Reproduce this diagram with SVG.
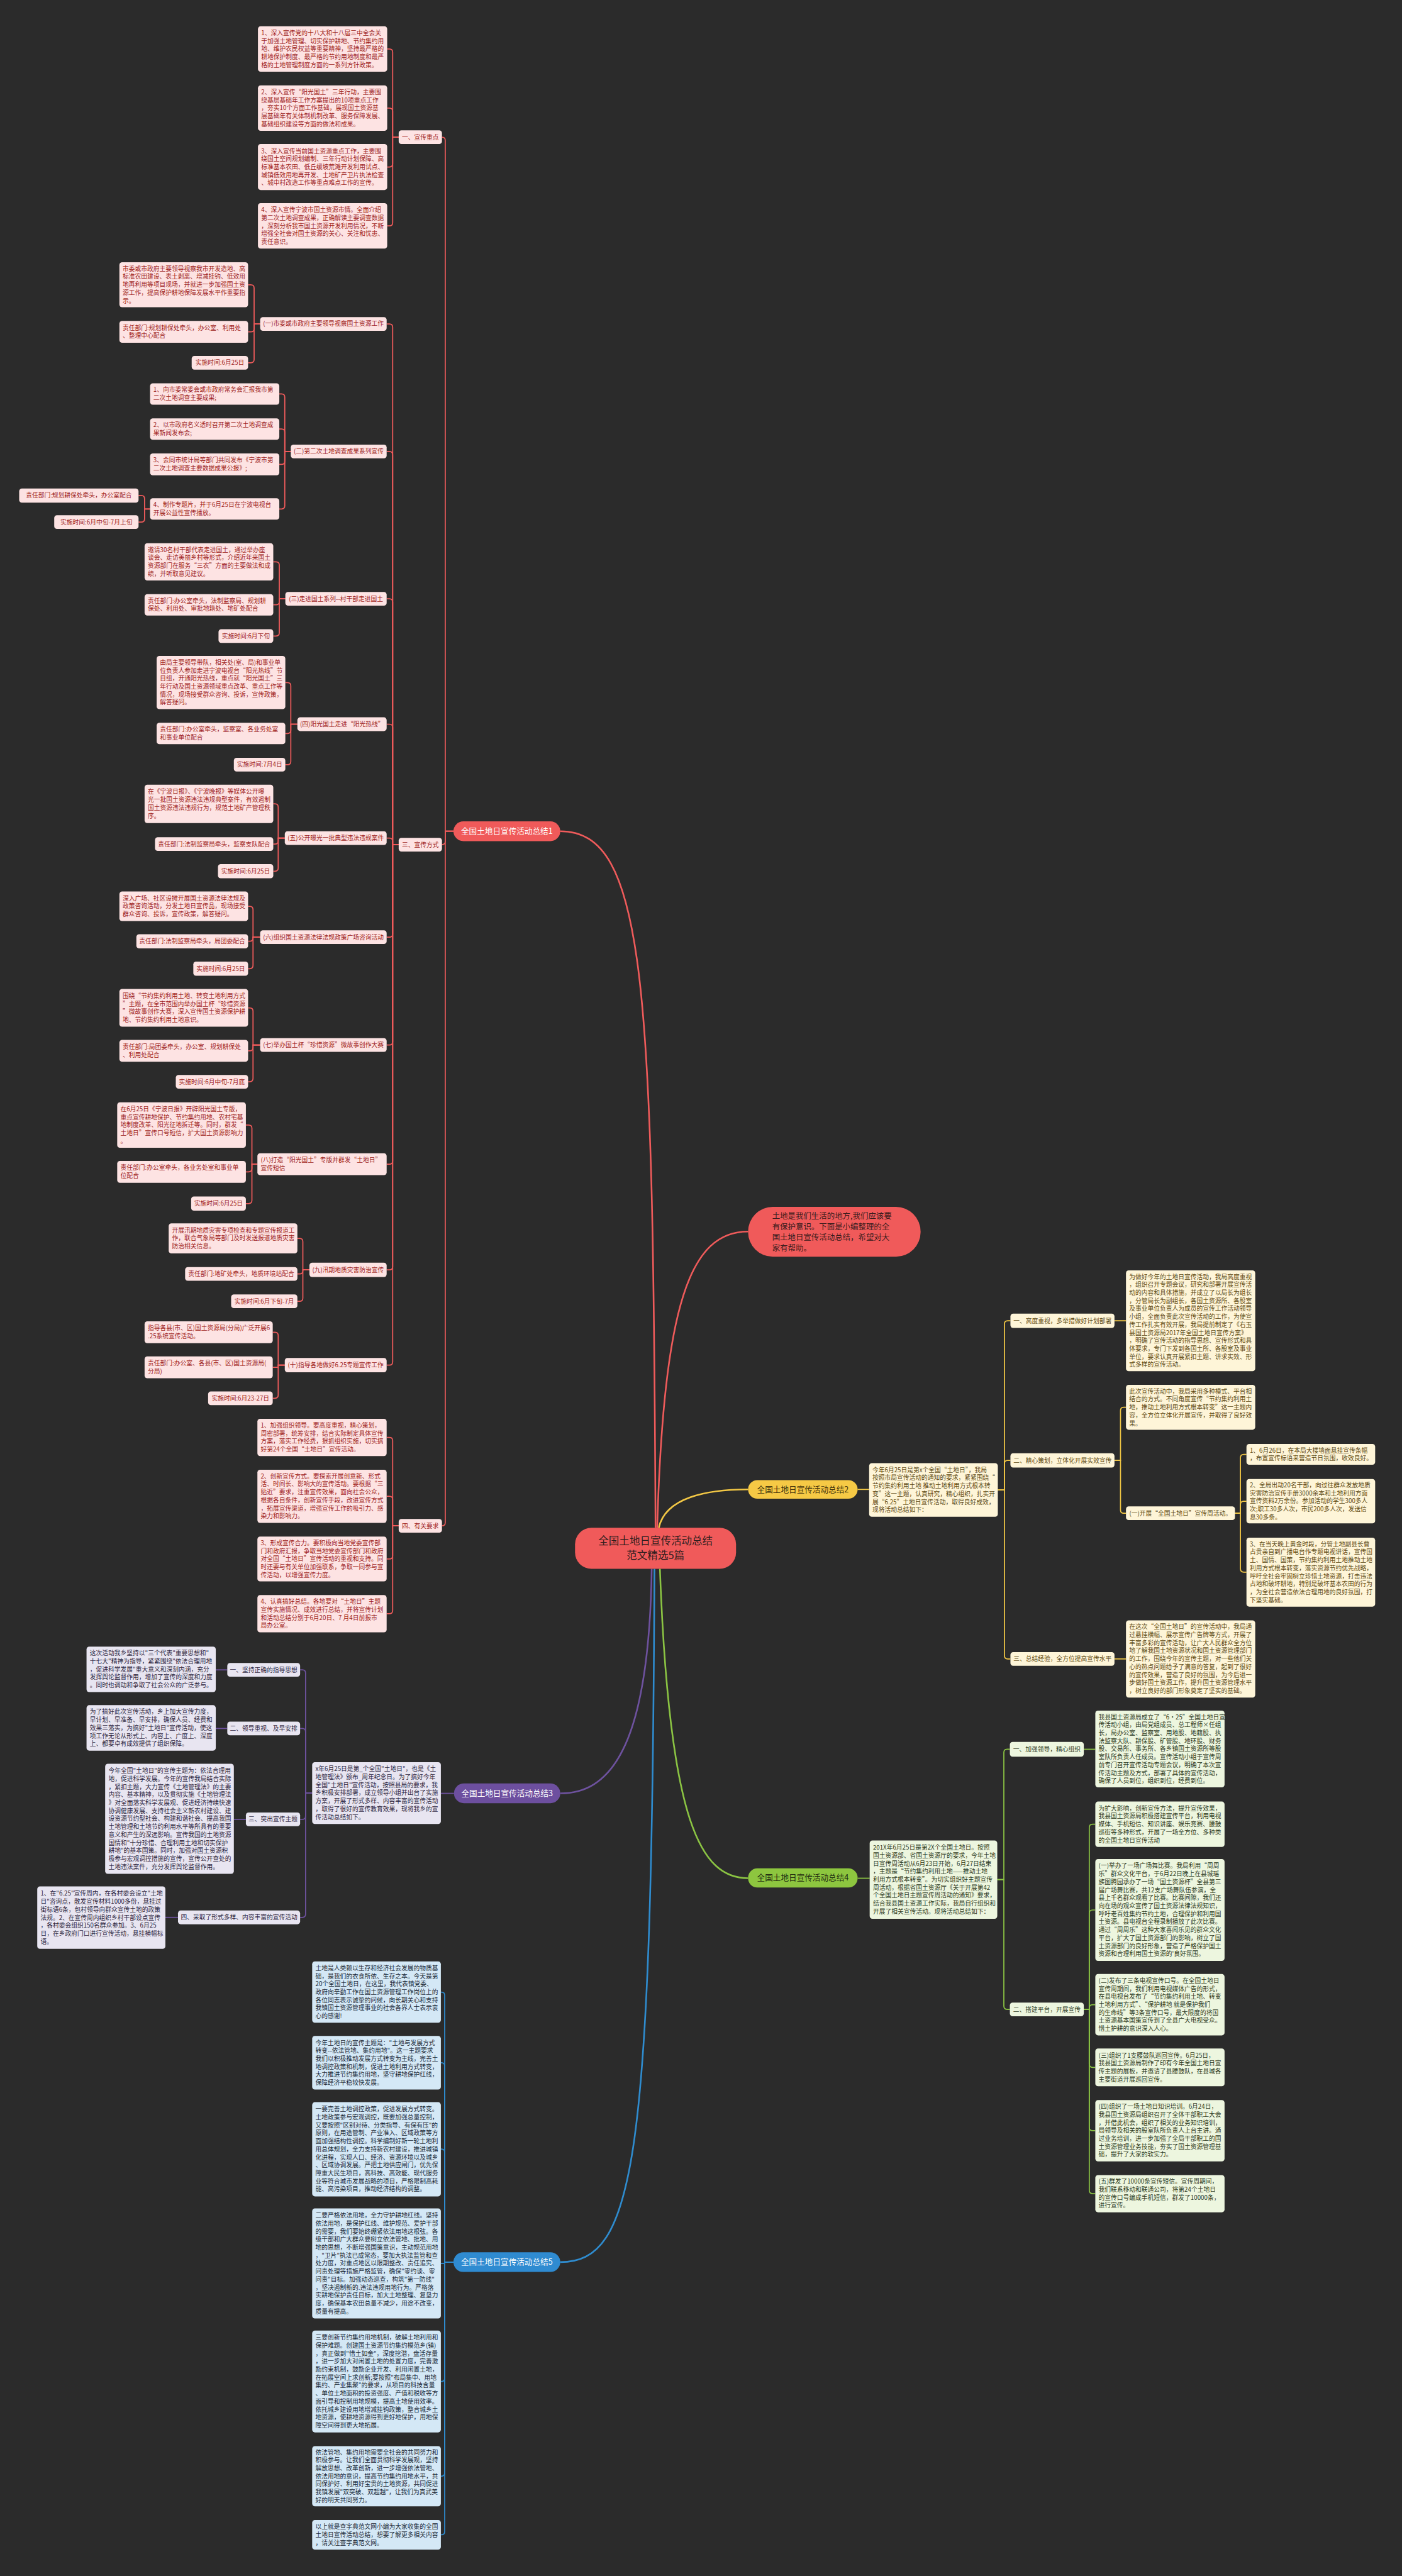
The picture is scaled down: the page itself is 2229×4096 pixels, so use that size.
<svg xmlns="http://www.w3.org/2000/svg" width="2229" height="4096" viewBox="0 0 2229 4096">
<style>
text{font-family:"Noto Sans CJK SC","Noto Sans",sans-serif;font-size:11.2px}
path{fill:none;stroke-width:2}
.main path{stroke-width:3}
.cr{stroke:#ef5b5b}.cy{stroke:#f3c845}.cp{stroke:#6e529f}.cg{stroke:#8bc443}.cb{stroke:#2f8ccf}
.lr rect{fill:#fde3e3}.lr text{fill:#a01e22}
.ly rect{fill:#fef5d8}.ly text{fill:#5e4a12}
.lp rect{fill:#e8e5f1}.lp text{fill:#2d2540}
.lg rect{fill:#edf6df}.lg text{fill:#2d3a1c}
.lb rect{fill:#d4e8f6}.lb text{fill:#1b2a38}
.m{text-anchor:middle}
.bl text{font-size:14.5px;text-anchor:middle}
</style>
<rect width="2229" height="4096" fill="#2b2b2b"/>
<g transform="scale(0.8707)">
<g id="connectors">
<g class="main">
<path class="cr" d="M1197 2790 C1192 1800 1180 1518 1023 1518"/>
<path class="cr" d="M1200 2790 C1212 2380 1260 2249 1366 2249"/>
<path class="cy" d="M1203 2790 C1215 2735 1290 2720 1366 2720"/>
<path class="cp" d="M1190 2865 C1185 3200 1110 3275 1023 3275"/>
<path class="cg" d="M1205 2865 C1222 3330 1280 3430 1366 3430"/>
<path class="cb" d="M1195 2865 C1190 3950 1160 4131 1023 4131"/>
</g>
<g class="cr">
<path d="M828 1518 H813 V256.5 Q813 250.5 807 250.5"/>
<path d="M828 1518 H813 V1536.5 Q813 1542.5 807 1542.5"/>
<path d="M828 1518 H813 V2780.5 Q813 2786.5 807 2786.5"/>
<path d="M728 250.5 H717 V95.5 Q717 89.5 711 89.5 H707"/>
<path d="M728 250.5 H717 V203.5 Q717 197.5 711 197.5 H707"/>
<path d="M728 250.5 H717 V299 Q717 305 711 305 H707"/>
<path d="M728 250.5 H717 V406.5 Q717 412.5 711 412.5 H707"/>
<path d="M728 1542.5 H717 V597.5 Q717 591.5 711 591.5 H706"/>
<path d="M728 1542.5 H717 V830.5 Q717 824.5 711 824.5 H706"/>
<path d="M728 1542.5 H717 V1099.5 Q717 1093.5 711 1093.5 H706"/>
<path d="M728 1542.5 H717 V1328.5 Q717 1322.5 711 1322.5 H706"/>
<path d="M728 1542.5 H717 V1536.5 Q717 1530.5 711 1530.5 H706"/>
<path d="M728 1542.5 H717 V1705.5 Q717 1711.5 711 1711.5 H706"/>
<path d="M728 1542.5 H717 V1902.5 Q717 1908.5 711 1908.5 H706"/>
<path d="M728 1542.5 H717 V2120 Q717 2126 711 2126 H706"/>
<path d="M728 1542.5 H717 V2313 Q717 2319 711 2319 H706"/>
<path d="M728 1542.5 H717 V2487 Q717 2493 711 2493 H706"/>
<path d="M475 591.5 H464 V526 Q464 520 458 520 H453"/>
<path d="M475 591.5 H464 V600 Q464 606 458 606 H453"/>
<path d="M475 591.5 H464 V656.5 Q464 662.5 458 662.5 H453"/>
<path d="M531 824.5 H520 V725.5 Q520 719.5 514 719.5 H510"/>
<path d="M531 824.5 H520 V789.5 Q520 783.5 514 783.5 H510"/>
<path d="M531 824.5 H520 V842 Q520 848 514 848 H510"/>
<path d="M531 824.5 H520 V923.5 Q520 929.5 514 929.5 H510"/>
<path d="M274 929.5 H264 V911 Q264 905 258 905 H253"/>
<path d="M274 929.5 H264 V947.5 Q264 953.5 258 953.5 H253"/>
<path d="M521 1093.5 H510 V1032 Q510 1026 504 1026 H499"/>
<path d="M521 1093.5 H510 V1098.5 Q510 1104.5 504 1104.5 H499"/>
<path d="M521 1093.5 H510 V1155.5 Q510 1161.5 504 1161.5 H499"/>
<path d="M543 1322.5 H531 V1252.5 Q531 1246.5 525 1246.5 H521"/>
<path d="M543 1322.5 H531 V1333.5 Q531 1339.5 525 1339.5 H521"/>
<path d="M543 1322.5 H531 V1390.5 Q531 1396.5 525 1396.5 H521"/>
<path d="M520 1530.5 H508 V1474 Q508 1468 502 1468 H499"/>
<path d="M520 1530.5 H508 V1535.5 Q508 1541.5 502 1541.5 H499"/>
<path d="M520 1530.5 H508 V1585 Q508 1591 502 1591 H499"/>
<path d="M475 1711.5 H462 V1661 Q462 1655 456 1655 H453"/>
<path d="M475 1711.5 H462 V1713 Q462 1719 456 1719 H453"/>
<path d="M475 1711.5 H462 V1763 Q462 1769 456 1769 H453"/>
<path d="M475 1908.5 H462 V1846.5 Q462 1840.5 456 1840.5 H453"/>
<path d="M475 1908.5 H462 V1913 Q462 1919 456 1919 H453"/>
<path d="M475 1908.5 H462 V1969.5 Q462 1975.5 456 1975.5 H453"/>
<path d="M470 2126 H460 V2060.5 Q460 2054.5 454 2054.5 H449"/>
<path d="M470 2126 H460 V2134 Q460 2140 454 2140 H449"/>
<path d="M470 2126 H460 V2192 Q460 2198 454 2198 H449"/>
<path d="M565 2319 H553 V2267.5 Q553 2261.5 547 2261.5 H543"/>
<path d="M565 2319 H553 V2320.5 Q553 2326.5 547 2326.5 H543"/>
<path d="M565 2319 H553 V2370.5 Q553 2376.5 547 2376.5 H543"/>
<path d="M520 2493 H508 V2439 Q508 2433 502 2433 H498"/>
<path d="M520 2493 H508 V2497 H498"/>
<path d="M520 2493 H508 V2547.5 Q508 2553.5 502 2553.5 H498"/>
<path d="M728 2786.5 H717 V2631 Q717 2625 711 2625 H706"/>
<path d="M728 2786.5 H717 V2738.5 Q717 2732.5 711 2732.5 H706"/>
<path d="M728 2786.5 H717 V2841 Q717 2847 711 2847 H706"/>
<path d="M728 2786.5 H717 V2941 Q717 2947 711 2947 H706"/>
</g>
<g class="cy">
<path d="M1566 2720 H1587"/>
<path d="M1822 2721 H1834 V2418 Q1834 2412 1840 2412 H1845"/>
<path d="M1822 2721 H1834 V2673 Q1834 2667 1840 2667 H1845"/>
<path d="M1822 2721 H1834 V3023.5 Q1834 3029.5 1840 3029.5 H1845"/>
<path d="M2035 2412 H2056"/>
<path d="M2035 2667 H2046 V2576 Q2046 2570 2052 2570 H2056"/>
<path d="M2035 2667 H2046 V2757.5 Q2046 2763.5 2052 2763.5 H2056"/>
<path d="M2255 2763.5 H2265 V2662 Q2265 2656 2271 2656 H2276"/>
<path d="M2255 2763.5 H2265 V2747.5 Q2265 2741.5 2271 2741.5 H2276"/>
<path d="M2255 2763.5 H2265 V2865 Q2265 2871 2271 2871 H2276"/>
<path d="M2035 3029.5 H2056"/>
</g>
<g class="cp">
<path d="M829 3275 H805"/>
<path d="M570 3274.5 H558 V3055.5 Q558 3049.5 552 3049.5 H548"/>
<path d="M570 3274.5 H558 V3162.5 Q558 3156.5 552 3156.5 H548"/>
<path d="M570 3274.5 H558 V3316.5 Q558 3322.5 552 3322.5 H548"/>
<path d="M570 3274.5 H558 V3495.5 Q558 3501.5 552 3501.5 H548"/>
<path d="M415 3049.5 H394"/>
<path d="M415 3156.5 H394"/>
<path d="M449 3322.5 H427"/>
<path d="M325 3501.5 H302"/>
</g>
<g class="cg">
<path d="M1566 3430 H1588"/>
<path d="M1821 3432.5 H1833 V3200.5 Q1833 3194.5 1839 3194.5 H1844"/>
<path d="M1821 3432.5 H1833 V3663.5 Q1833 3669.5 1839 3669.5 H1844"/>
<path d="M1979 3194.5 H2000"/>
<path d="M1979 3669.5 H1989 V3337.5 Q1989 3331.5 1995 3331.5 H2000"/>
<path d="M1979 3669.5 H1989 V3494 Q1989 3488 1995 3488 H2000"/>
<path d="M1979 3669.5 H1989 V3667 Q1989 3661 1995 3661 H2000"/>
<path d="M1979 3669.5 H1989 V3769.5 Q1989 3775.5 1995 3775.5 H2000"/>
<path d="M1979 3669.5 H1989 V3885 Q1989 3891 1995 3891 H2000"/>
<path d="M1979 3669.5 H1989 V4000 Q1989 4006 1995 4006 H2000"/>
</g>
<g class="cb">
<path d="M828 4131 H812 V3644 Q812 3638 806 3638 H805"/>
<path d="M828 4131 H812 V3773 Q812 3767 806 3767 H805"/>
<path d="M828 4131 H812 V3930.5 Q812 3924.5 806 3924.5 H805"/>
<path d="M828 4131 H812 V4133.5 H805"/>
<path d="M828 4131 H812 V4343 Q812 4349 806 4349 H805"/>
<path d="M828 4131 H812 V4516 Q812 4522 806 4522 H805"/>
<path d="M828 4131 H812 V4623 Q812 4629 806 4629 H805"/>
</g>
</g>

<g id="root"><rect x="1050" y="2790" width="294" height="75" rx="30" fill="#f05a5a"/><text x="1197" y="2821" class="m" font-size="19" fill="#2e1e1e" style="font-size:19px"><tspan>全国土地日宣传活动总结</tspan><tspan x="1197" dy="26">范文精选5篇</tspan></text></g>
<g id="intro"><rect x="1366" y="2204" width="315" height="91" rx="45" fill="#f05a5a"/><text x="1410" y="2226" fill="#3a1c1c" style="font-size:14.3px"><tspan>土地是我们生活的地方,我们应该要</tspan><tspan x="1410" dy="19.5">有保护意识。下面是小编整理的全</tspan><tspan x="1410" dy="19.5">国土地日宣传活动总结，希望对大</tspan><tspan x="1410" dy="19.5">家有帮助。</tspan></text></g>

<g id="b1" class="bl"><rect x="828" y="1500" width="195" height="36" rx="18" fill="#f05a5a"/><text x="925.5" y="1523" fill="#fff">全国土地日宣传活动总结1</text></g>
<g id="b2" class="bl"><rect x="1366" y="2703" width="200" height="34" rx="17" fill="#f6c945"/><text x="1466" y="2725" fill="#3a2e0a">全国土地日宣传活动总结2</text></g>
<g id="b3" class="bl"><rect x="829" y="3257" width="194" height="36" rx="18" fill="#6d4f9f"/><text x="926" y="3280" fill="#fff">全国土地日宣传活动总结3</text></g>
<g id="b4" class="bl"><rect x="1366" y="3412" width="200" height="35" rx="17" fill="#8dc63f"/><text x="1466" y="3434.5" fill="#1e2a10">全国土地日宣传活动总结4</text></g>
<g id="b5" class="bl"><rect x="828" y="4113" width="195" height="36" rx="18" fill="#2f8bd1"/><text x="925.5" y="4136" fill="#fff">全国土地日宣传活动总结5</text></g>

<g class="lr">
<g id="n1-l1"><rect x="728" y="238" width="79" height="25" rx="5"/><text x="767.5" y="254.5" class="m">一、宣传重点</text></g>
<g id="n1-l3"><rect x="728" y="1530" width="79" height="25" rx="5"/><text x="767.5" y="1546.5" class="m">三、宣传方式</text></g>
<g id="n1-l4"><rect x="728" y="2774" width="79" height="25" rx="5"/><text x="767.5" y="2790.5" class="m">四、有关要求</text></g>

<g id="n1-1a"><rect x="471" y="48" width="236" height="83" rx="5"/><text x="477" y="64.2"><tspan>1、深入宣传党的十八大和十八届三中全会关</tspan><tspan x="477" dy="14.6">于加强土地管理、切实保护耕地、节约集约用</tspan><tspan x="477" dy="14.6">地、维护农民权益等重要精神，坚持最严格的</tspan><tspan x="477" dy="14.6">耕地保护制度、最严格的节约用地制度和最严</tspan><tspan x="477" dy="14.6">格的土地管理制度方面的一系列方针政策。</tspan></text></g>
<g id="n1-1b"><rect x="471" y="156" width="236" height="83" rx="5"/><text x="477" y="172.2"><tspan>2、深入宣传“阳光国土”三年行动，主要围</tspan><tspan x="477" dy="14.6">绕基层基础年工作方案提出的10项重点工作</tspan><tspan x="477" dy="14.6">，夯实10个方面工作基础，展现国土资源基</tspan><tspan x="477" dy="14.6">层基础年有关体制机制改革、服务保障发展、</tspan><tspan x="477" dy="14.6">基础组织建设等方面的做法和成果。</tspan></text></g>
<g id="n1-1c"><rect x="471" y="263" width="236" height="84" rx="5"/><text x="477" y="279.7"><tspan>3、深入宣传当前国土资源重点工作，主要围</tspan><tspan x="477" dy="14.6">绕国土空间规划编制、三年行动计划保障、高</tspan><tspan x="477" dy="14.6">标准基本农田、低丘缓坡荒滩开发利用试点、</tspan><tspan x="477" dy="14.6">城镇低效用地再开发、土地矿产卫片执法检查</tspan><tspan x="477" dy="14.6">、城中村改造工作等重点难点工作的宣传。</tspan></text></g>
<g id="n1-1d"><rect x="471" y="371" width="236" height="83" rx="5"/><text x="477" y="387.2"><tspan>4、深入宣传宁波市国土资源市情。全面介绍</tspan><tspan x="477" dy="14.6">第二次土地调查成果，正确解读主要调查数据</tspan><tspan x="477" dy="14.6">，深刻分析我市国土资源开发利用情况，不断</tspan><tspan x="477" dy="14.6">增强全社会对国土资源的关心、关注和忧患、</tspan><tspan x="477" dy="14.6">责任意识。</tspan></text></g>

<g id="n1-s1"><rect x="475" y="579" width="231" height="25" rx="5"/><text x="590.5" y="595.5" class="m">(一)市委或市政府主要领导视察国土资源工作</text></g>
<g id="n1-s1a"><rect x="218" y="479" width="235" height="82" rx="5"/><text x="224" y="494.7"><tspan>市委或市政府主要领导视察我市开发造地、高</tspan><tspan x="224" dy="14.6">标准农田建设、表土剥离、增减挂钩、低效用</tspan><tspan x="224" dy="14.6">地再利用等项目现场，并就进一步加强国土资</tspan><tspan x="224" dy="14.6">源工作，提高保护耕地保障发展水平作重要指</tspan><tspan x="224" dy="14.6">示。</tspan></text></g>
<g id="n1-s1b"><rect x="218" y="586" width="235" height="40" rx="5"/><text x="224" y="602.6"><tspan>责任部门:规划耕保处牵头，办公室、利用处</tspan><tspan x="224" dy="14.6">、整理中心配合</tspan></text></g>
<g id="n1-s1c"><rect x="350" y="650" width="103" height="25" rx="5"/><text x="401.5" y="666.5" class="m">实施时间:6月25日</text></g>

<g id="n1-s2"><rect x="531" y="812" width="175" height="25" rx="5"/><text x="618.5" y="828.5" class="m">(二)第二次土地调查成果系列宣传</text></g>
<g id="n1-s2a"><rect x="274" y="700" width="236" height="39" rx="5"/><text x="280" y="716.1"><tspan>1、向市委常委会或市政府常务会汇报我市第</tspan><tspan x="280" dy="14.6">二次土地调查主要成果;</tspan></text></g>
<g id="n1-s2b"><rect x="274" y="764" width="236" height="39" rx="5"/><text x="280" y="780.1"><tspan>2、以市政府名义适时召开第二次土地调查成</tspan><tspan x="280" dy="14.6">果新闻发布会;</tspan></text></g>
<g id="n1-s2c"><rect x="274" y="828" width="236" height="40" rx="5"/><text x="280" y="844.6"><tspan>3、会同市统计局等部门共同发布《宁波市第</tspan><tspan x="280" dy="14.6">二次土地调查主要数据成果公报》;</tspan></text></g>
<g id="n1-s2d"><rect x="274" y="910" width="236" height="39" rx="5"/><text x="280" y="926.1"><tspan>4、制作专题片，并于6月25日在宁波电视台</tspan><tspan x="280" dy="14.6">开展公益性宣传播放。</tspan></text></g>
<g id="n1-s2d1"><rect x="35" y="892" width="218" height="26" rx="5"/><text x="144" y="909" class="m">责任部门:规划耕保处牵头，办公室配合</text></g>
<g id="n1-s2d2"><rect x="99" y="941" width="154" height="25" rx="5"/><text x="176" y="957.5" class="m">实施时间:6月中旬-7月上旬</text></g>

<g id="n1-s3"><rect x="521" y="1081" width="185" height="25" rx="5"/><text x="613.5" y="1097.5" class="m">(三)走进国土系列--村干部走进国土</text></g>
<g id="n1-s3a"><rect x="264" y="992" width="235" height="68" rx="5"/><text x="270" y="1008"><tspan>邀请30名村干部代表走进国土，通过举办座</tspan><tspan x="270" dy="14.6">谈会、走访美丽乡村等形式，介绍近年来国土</tspan><tspan x="270" dy="14.6">资源部门在服务“三农”方面的主要做法和成</tspan><tspan x="270" dy="14.6">绩，并听取意见建议。</tspan></text></g>
<g id="n1-s3b"><rect x="264" y="1085" width="235" height="39" rx="5"/><text x="270" y="1101.1"><tspan>责任部门:办公室牵头，法制监察局、规划耕</tspan><tspan x="270" dy="14.6">保处、利用处、审批地籍处、地矿处配合</tspan></text></g>
<g id="n1-s3c"><rect x="399" y="1149" width="100" height="25" rx="5"/><text x="449" y="1165.5" class="m">实施时间:6月下旬</text></g>

<g id="n1-s4"><rect x="543" y="1310" width="163" height="25" rx="5"/><text x="624.5" y="1326.5" class="m">(四)阳光国土走进“阳光热线”</text></g>
<g id="n1-s4a"><rect x="286" y="1198" width="235" height="97" rx="5"/><text x="292" y="1213.9"><tspan>由局主要领导带队，相关处(室、局)和事业单</tspan><tspan x="292" dy="14.6">位负责人参加走进宁波电视台“阳光热线”节</tspan><tspan x="292" dy="14.6">目组，开通阳光热线，重点就“阳光国土”三</tspan><tspan x="292" dy="14.6">年行动及国土资源领域重点改革、重点工作等</tspan><tspan x="292" dy="14.6">情况，现场接受群众咨询、投诉，宣传政策，</tspan><tspan x="292" dy="14.6">解答疑问。</tspan></text></g>
<g id="n1-s4b"><rect x="286" y="1320" width="235" height="39" rx="5"/><text x="292" y="1336.1"><tspan>责任部门:办公室牵头，监察室、各业务处室</tspan><tspan x="292" dy="14.6">和事业单位配合</tspan></text></g>
<g id="n1-s4c"><rect x="427" y="1384" width="94" height="25" rx="5"/><text x="474" y="1400.5" class="m">实施时间:7月4日</text></g>

<g id="n1-s5"><rect x="520" y="1518" width="186" height="25" rx="5"/><text x="613" y="1534.5" class="m">(五)公开曝光一批典型违法违规案件</text></g>
<g id="n1-s5a"><rect x="264" y="1433" width="235" height="70" rx="5"/><text x="270" y="1450"><tspan>在《宁波日报》、《宁波晚报》等媒体公开曝</tspan><tspan x="270" dy="14.6">光一批国土资源违法违规典型案件，有效遏制</tspan><tspan x="270" dy="14.6">国土资源违法违规行为，规范土地矿产管理秩</tspan><tspan x="270" dy="14.6">序。</tspan></text></g>
<g id="n1-s5b"><rect x="283" y="1529" width="216" height="25" rx="5"/><text x="391" y="1545.5" class="m">责任部门:法制监察局牵头，监察支队配合</text></g>
<g id="n1-s5c"><rect x="398" y="1578" width="101" height="26" rx="5"/><text x="448.5" y="1595" class="m">实施时间:6月25日</text></g>

<g id="n1-s6"><rect x="475" y="1699" width="231" height="25" rx="5"/><text x="590.5" y="1715.5" class="m">(六)组织国土资源法律法规政策广场咨询活动</text></g>
<g id="n1-s6a"><rect x="218" y="1628" width="235" height="54" rx="5"/><text x="224" y="1644.3"><tspan>深入广场、社区设摊开展国土资源法律法规及</tspan><tspan x="224" dy="14.6">政策咨询活动，分发土地日宣传品，现场接受</tspan><tspan x="224" dy="14.6">群众咨询、投诉，宣传政策，解答疑问。</tspan></text></g>
<g id="n1-s6b"><rect x="249" y="1706" width="204" height="26" rx="5"/><text x="351" y="1723" class="m">责任部门:法制监察局牵头，局团委配合</text></g>
<g id="n1-s6c"><rect x="353" y="1756" width="100" height="26" rx="5"/><text x="403" y="1773" class="m">实施时间:6月25日</text></g>

<g id="n1-s7"><rect x="475" y="1896" width="231" height="25" rx="5"/><text x="590.5" y="1912.5" class="m">(七)举办国土杯“珍惜资源”微故事创作大赛</text></g>
<g id="n1-s7a"><rect x="218" y="1806" width="235" height="69" rx="5"/><text x="224" y="1822.5"><tspan>围绕“节约集约利用土地、转变土地利用方式</tspan><tspan x="224" dy="14.6">”主题，在全市范围内举办国土杯“珍惜资源</tspan><tspan x="224" dy="14.6">”微故事创作大赛，深入宣传国土资源保护耕</tspan><tspan x="224" dy="14.6">地、节约集约利用土地意识。</tspan></text></g>
<g id="n1-s7b"><rect x="218" y="1899" width="235" height="40" rx="5"/><text x="224" y="1915.6"><tspan>责任部门:局团委牵头，办公室、规划耕保处</tspan><tspan x="224" dy="14.6">、利用处配合</tspan></text></g>
<g id="n1-s7c"><rect x="321" y="1963" width="132" height="25" rx="5"/><text x="387" y="1979.5" class="m">实施时间:6月中旬-7月底</text></g>

<g id="n1-s8"><rect x="470" y="2106" width="236" height="40" rx="5"/><text x="476" y="2122.6"><tspan>(八)打造“阳光国土”专版并群发“土地日”</tspan><tspan x="476" dy="14.6">宣传短信</tspan></text></g>
<g id="n1-s8a"><rect x="214" y="2013" width="235" height="83" rx="5"/><text x="220" y="2029.2"><tspan>在6月25日《宁波日报》开辟阳光国土专版，</tspan><tspan x="220" dy="14.6">重点宣传耕地保护、节约集约用地、农村宅基</tspan><tspan x="220" dy="14.6">地制度改革、阳光征地拆迁等。同时，群发“</tspan><tspan x="220" dy="14.6">土地日”宣传口号短信，扩大国土资源影响力</tspan><tspan x="220" dy="14.6">。</tspan></text></g>
<g id="n1-s8b"><rect x="214" y="2120" width="235" height="40" rx="5"/><text x="220" y="2136.6"><tspan>责任部门:办公室牵头，各业务处室和事业单</tspan><tspan x="220" dy="14.6">位配合</tspan></text></g>
<g id="n1-s8c"><rect x="349" y="2185" width="100" height="26" rx="5"/><text x="399" y="2202" class="m">实施时间:6月25日</text></g>

<g id="n1-s9"><rect x="565" y="2306" width="141" height="26" rx="5"/><text x="635.5" y="2323" class="m">(九)汛期地质灾害防治宣传</text></g>
<g id="n1-s9a"><rect x="308" y="2234" width="235" height="55" rx="5"/><text x="314" y="2250.8"><tspan>开展汛期地质灾害专项检查和专题宣传报道工</tspan><tspan x="314" dy="14.6">作，联合气象局等部门及时发送报道地质灾害</tspan><tspan x="314" dy="14.6">防治相关信息。</tspan></text></g>
<g id="n1-s9b"><rect x="338" y="2314" width="205" height="25" rx="5"/><text x="440.5" y="2330.5" class="m">责任部门:地矿处牵头，地质环境站配合</text></g>
<g id="n1-s9c"><rect x="422" y="2364" width="121" height="25" rx="5"/><text x="482.5" y="2380.5" class="m">实施时间:6月下旬-7月</text></g>

<g id="n1-s10"><rect x="520" y="2480" width="186" height="26" rx="5"/><text x="613" y="2497" class="m">(十)指导各地做好6.25专题宣传工作</text></g>
<g id="n1-s10a"><rect x="264" y="2413" width="234" height="40" rx="5"/><text x="270" y="2429.6"><tspan>指导各县(市、区)国土资源局(分局)广泛开展6</tspan><tspan x="270" dy="14.6">.25系统宣传活动。</tspan></text></g>
<g id="n1-s10b"><rect x="264" y="2477" width="234" height="40" rx="5"/><text x="270" y="2493.6"><tspan>责任部门:办公室、各县(市、区)国土资源局(</tspan><tspan x="270" dy="14.6">分局)</tspan></text></g>
<g id="n1-s10c"><rect x="380" y="2541" width="118" height="25" rx="5"/><text x="439" y="2557.5" class="m">实施时间:6月23-27日</text></g>

<g id="n1-4a"><rect x="470" y="2591" width="236" height="68" rx="5"/><text x="476" y="2607"><tspan>1、加强组织领导。要高度重视，精心策划，</tspan><tspan x="476" dy="14.6">周密部署，统筹安排，结合实际制定具体宣传</tspan><tspan x="476" dy="14.6">方案，落实工作经费，狠抓组织实施，切实搞</tspan><tspan x="476" dy="14.6">好第24个全国“土地日”宣传活动。</tspan></text></g>
<g id="n1-4b"><rect x="470" y="2684" width="236" height="97" rx="5"/><text x="476" y="2699.9"><tspan>2、创新宣传方式。要探索开展创意新、形式</tspan><tspan x="476" dy="14.6">活、时间长、影响大的宣传活动。要根据“三</tspan><tspan x="476" dy="14.6">贴近”要求，注重宣传效果，面向社会公众，</tspan><tspan x="476" dy="14.6">根据各自条件，创新宣传手段，改进宣传方式</tspan><tspan x="476" dy="14.6">，拓展宣传渠道，增强宣传工作的吸引力、感</tspan><tspan x="476" dy="14.6">染力和影响力。</tspan></text></g>
<g id="n1-4c"><rect x="470" y="2806" width="236" height="82" rx="5"/><text x="476" y="2821.7"><tspan>3、形成宣传合力。要积极向当地党委宣传部</tspan><tspan x="476" dy="14.6">门和政府汇报，争取当地党委宣传部门和政府</tspan><tspan x="476" dy="14.6">对全国“土地日”宣传活动的重视和支持。同</tspan><tspan x="476" dy="14.6">时还要与有关单位加强联系，争取一同参与宣</tspan><tspan x="476" dy="14.6">传活动，以增强宣传力度。</tspan></text></g>
<g id="n1-4d"><rect x="470" y="2913" width="236" height="68" rx="5"/><text x="476" y="2929"><tspan>4、认真搞好总结。各地要对“土地日”主题</tspan><tspan x="476" dy="14.6">宣传实施情况、成效进行总结，并将宣传计划</tspan><tspan x="476" dy="14.6">和活动总结分别于6月20日、7 月4日前报市</tspan><tspan x="476" dy="14.6">局办公室。</tspan></text></g>
</g>

<g class="ly">
<g id="n2-intro"><rect x="1587" y="2672" width="235" height="98" rx="5"/><text x="1593" y="2688.4"><tspan>今年6月25日是第x个全国“土地日”，我局</tspan><tspan x="1593" dy="14.6">按照市局宣传活动的通知的要求，紧紧围绕“</tspan><tspan x="1593" dy="14.6">节约集约利用土地 推动土地利用方式根本转</tspan><tspan x="1593" dy="14.6">变”这一主题，认真研究，精心组织，扎实开</tspan><tspan x="1593" dy="14.6">展“6.25”土地日宣传活动，取得良好成效，</tspan><tspan x="1593" dy="14.6">现将活动总结如下：</tspan></text></g>
<g id="n2-c1"><rect x="1845" y="2399" width="190" height="26" rx="5"/><text x="1940" y="2416" class="m">一、高度重视，多举措做好计划部署</text></g>
<g id="n2-c1a"><rect x="2056" y="2320" width="236" height="184" rx="5"/><text x="2062" y="2335.6"><tspan>为做好今年的土地日宣传活动，我局高度重视</tspan><tspan x="2062" dy="14.6">，组织召开专题会议，研究和部署开展宣传活</tspan><tspan x="2062" dy="14.6">动的内容和具体措施，并成立了以局长为组长</tspan><tspan x="2062" dy="14.6">，分管局长为副组长，各国土资源所、各股室</tspan><tspan x="2062" dy="14.6">及事业单位负责人为成员的宣传工作活动领导</tspan><tspan x="2062" dy="14.6">小组，全面负责此次宣传活动的工作，为使宣</tspan><tspan x="2062" dy="14.6">传工作扎实有效开展，我局提前制定了《右玉</tspan><tspan x="2062" dy="14.6">县国土资源局2017年全国土地日宣传方案》</tspan><tspan x="2062" dy="14.6">，明确了宣传活动的指导思想、宣传形式和具</tspan><tspan x="2062" dy="14.6">体要求，专门下发到各国土所、各股室及事业</tspan><tspan x="2062" dy="14.6">单位，要求认真开展紧扣主题、讲求实效、形</tspan><tspan x="2062" dy="14.6">式多样的宣传活动。</tspan></text></g>
<g id="n2-c2"><rect x="1845" y="2654" width="190" height="26" rx="5"/><text x="1940" y="2671" class="m">二、精心策划，立体化开展实效宣传</text></g>
<g id="n2-c2a"><rect x="2056" y="2529" width="236" height="82" rx="5"/><text x="2062" y="2544.7"><tspan>此次宣传活动中，我局采用多种模式、平台相</tspan><tspan x="2062" dy="14.6">结合的方式。不同角度宣传“节约集约利用土</tspan><tspan x="2062" dy="14.6">地，推动土地利用方式根本转变”这一主题内</tspan><tspan x="2062" dy="14.6">容，全方位立体化开展宣传，并取得了良好效</tspan><tspan x="2062" dy="14.6">果。</tspan></text></g>
<g id="n2-c2b"><rect x="2056" y="2751" width="199" height="25" rx="5"/><text x="2155.5" y="2767.5" class="m">(一)开展“全国土地日”宣传周活动。</text></g>
<g id="n2-c2b1"><rect x="2276" y="2637" width="235" height="38" rx="5"/><text x="2282" y="2652.6"><tspan>1、6月26日，在本局大楼墙面悬挂宣传条幅</tspan><tspan x="2282" dy="14.6">，布置宣传标语来营造节日氛围，收效良好。</tspan></text></g>
<g id="n2-c2b2"><rect x="2276" y="2701" width="235" height="81" rx="5"/><text x="2282" y="2716.2"><tspan>2、全局出动20名干部，向过往群众发放地质</tspan><tspan x="2282" dy="14.6">灾害防治宣传手册3000余本和土地利用方面</tspan><tspan x="2282" dy="14.6">宣传资料2万余份。参加活动的学生300多人</tspan><tspan x="2282" dy="14.6">次;职工30多人次，市民200多人次，发送信</tspan><tspan x="2282" dy="14.6">息30多条。</tspan></text></g>
<g id="n2-c2b3"><rect x="2276" y="2808" width="235" height="126" rx="5"/><text x="2282" y="2823.8"><tspan>3、在当天晚上黄金时段，分管土地副县长曹</tspan><tspan x="2282" dy="14.6">占贵亲自到广播电台作专题电视讲话，宣传国</tspan><tspan x="2282" dy="14.6">土、国情、国策，节约集约利用土地推动土地</tspan><tspan x="2282" dy="14.6">利用方式根本转变，落实资源节约优先战略，</tspan><tspan x="2282" dy="14.6">呼吁全社会牢固树立珍惜土地资源，打击违法</tspan><tspan x="2282" dy="14.6">占地和破坏耕地，特别是破坏基本农田的行为</tspan><tspan x="2282" dy="14.6">，为全社会营造依法合理用地的良好氛围，打</tspan><tspan x="2282" dy="14.6">下坚实基础。</tspan></text></g>
<g id="n2-c3"><rect x="1845" y="3017" width="190" height="25" rx="5"/><text x="1940" y="3033.5" class="m">三、总结经验，全方位提高宣传水平</text></g>
<g id="n2-c3a"><rect x="2056" y="2959" width="236" height="141" rx="5"/><text x="2062" y="2975"><tspan>在这次“全国土地日”的宣传活动中，我局通</tspan><tspan x="2062" dy="14.6">过悬挂横幅、展示宣传广告牌等方式，开展了</tspan><tspan x="2062" dy="14.6">丰富多彩的宣传活动，让广大人民群众全方位</tspan><tspan x="2062" dy="14.6">地了解我国土地资源状况和国土资源管理部门</tspan><tspan x="2062" dy="14.6">的工作，围绕今年的宣传主题，对一些他们关</tspan><tspan x="2062" dy="14.6">心的热点问题给予了满意的答复，起到了很好</tspan><tspan x="2062" dy="14.6">的宣传效果，营造了良好的氛围，为今后进一</tspan><tspan x="2062" dy="14.6">步做好国土资源工作，提升国土资源管理水平</tspan><tspan x="2062" dy="14.6">，树立良好的部门形象奠定了坚实的基础。</tspan></text></g>
</g>

<g class="lp">
<g id="n3-intro"><rect x="570" y="3218" width="235" height="113" rx="5"/><text x="576" y="3234.6"><tspan>x年6月25日是第_个全国"土地日"，也是《土</tspan><tspan x="576" dy="14.6">地管理法》颁布_周年纪念日。为了搞好今年</tspan><tspan x="576" dy="14.6">全国"土地日"宣传活动，按照县局的要求，我</tspan><tspan x="576" dy="14.6">乡积极安排部署，成立领导小组并出台了实施</tspan><tspan x="576" dy="14.6">方案，开展了形式多样、内容丰富的宣传活动</tspan><tspan x="576" dy="14.6">，取得了很好的宣传教育效果，现将我乡的宣</tspan><tspan x="576" dy="14.6">传活动总结如下。</tspan></text></g>
<g id="n3-d1"><rect x="415" y="3037" width="133" height="25" rx="5"/><text x="481.5" y="3053.5" class="m">一、坚持正确的指导思想</text></g>
<g id="n3-d1a"><rect x="158" y="3007" width="236" height="83" rx="5"/><text x="164" y="3023.2"><tspan>这次活动我乡坚持以"三个代表"重要思想和"</tspan><tspan x="164" dy="14.6">十七大"精神为指导，紧紧围绕"依法合理用地</tspan><tspan x="164" dy="14.6">，促进科学发展"重大意义和深刻内涵，充分</tspan><tspan x="164" dy="14.6">发挥舆论监督作用，增加了宣传的深度和力度</tspan><tspan x="164" dy="14.6">。同时也调动和争取了社会公众的广泛参与。</tspan></text></g>
<g id="n3-d2"><rect x="415" y="3144" width="133" height="25" rx="5"/><text x="481.5" y="3160.5" class="m">二、领导重视、及早安排</text></g>
<g id="n3-d2a"><rect x="158" y="3114" width="236" height="83" rx="5"/><text x="164" y="3130.2"><tspan>为了搞好此次宣传活动，乡上加大宣传力度，</tspan><tspan x="164" dy="14.6">早计划、早准备、早安排，确保人员、经费和</tspan><tspan x="164" dy="14.6">效果三落实，为搞好"土地日"宣传活动，使这</tspan><tspan x="164" dy="14.6">项工作无论从形式上、内容上、广度上、深度</tspan><tspan x="164" dy="14.6">上、都要卓有成效提供了组织保障。</tspan></text></g>
<g id="n3-d3"><rect x="449" y="3310" width="99" height="25" rx="5"/><text x="498.5" y="3326.5" class="m">三、突出宣传主题</text></g>
<g id="n3-d3a"><rect x="192" y="3221" width="235" height="201" rx="5"/><text x="198" y="3237.8"><tspan>今年全国"土地日"的宣传主题为：依法合理用</tspan><tspan x="198" dy="14.6">地，促进科学发展。今年的宣传我局结合实际</tspan><tspan x="198" dy="14.6">，紧扣主题，大力宣传《土地管理法》的主要</tspan><tspan x="198" dy="14.6">内容、基本精神，以及贯彻实施《土地管理法</tspan><tspan x="198" dy="14.6">》对全面落实科学发展观、促进经济持续快速</tspan><tspan x="198" dy="14.6">协调健康发展、支持社会主义新农村建设、建</tspan><tspan x="198" dy="14.6">设资源节约型社会、构建和谐社会、提高我国</tspan><tspan x="198" dy="14.6">土地管理和土地节约利用水平等所具有的重要</tspan><tspan x="198" dy="14.6">意义和产生的深远影响。宣传我国的土地资源</tspan><tspan x="198" dy="14.6">国情和"十分珍惜、合理利用土地和切实保护</tspan><tspan x="198" dy="14.6">耕地"的基本国策。同时，加强对国土资源积</tspan><tspan x="198" dy="14.6">极参与宏观调控措施的宣传，宣传公开查处的</tspan><tspan x="198" dy="14.6">土地违法案件，充分发挥舆论监督作用。</tspan></text></g>
<g id="n3-d4"><rect x="325" y="3489" width="223" height="25" rx="5"/><text x="436.5" y="3505.5" class="m">四、采取了形式多样、内容丰富的宣传活动</text></g>
<g id="n3-d4a"><rect x="68" y="3445" width="234" height="114" rx="5"/><text x="74" y="3462.1"><tspan>1、在"6.25"宣传周内，在各村委会设立"土地</tspan><tspan x="74" dy="14.6">日"咨询点，散发宣传材料1000多份，悬挂过</tspan><tspan x="74" dy="14.6">街标语6条，包村领导向群众宣传土地的政策</tspan><tspan x="74" dy="14.6">法规。2、在宣传周内组织乡村干部设点宣传</tspan><tspan x="74" dy="14.6">，各村委会组织150名群众参加。3、6月25</tspan><tspan x="74" dy="14.6">日，在乡政府门口进行宣传活动，悬挂横幅标</tspan><tspan x="74" dy="14.6">语。</tspan></text></g>
</g>

<g class="lg">
<g id="n4-intro"><rect x="1588" y="3361" width="233" height="143" rx="5"/><text x="1594" y="3378"><tspan>201X年6月25日是第2X个全国土地日。按照</tspan><tspan x="1594" dy="14.6">国土资源部、省国土资源厅的要求，今年土地</tspan><tspan x="1594" dy="14.6">日宣传周活动从6月23日开始，6月27日结束</tspan><tspan x="1594" dy="14.6">，主题是“节约集约利用土地——推动土地</tspan><tspan x="1594" dy="14.6">利用方式根本转变”。为切实组织好主题宣传</tspan><tspan x="1594" dy="14.6">周活动，根据省国土资源厅《关于开展第42</tspan><tspan x="1594" dy="14.6">个全国土地日主题宣传周活动的通知》要求，</tspan><tspan x="1594" dy="14.6">结合我县国土资源工作实际，我局自行组织和</tspan><tspan x="1594" dy="14.6">开展了相关宣传活动。现将活动总结如下：</tspan></text></g>
<g id="n4-e1"><rect x="1844" y="3181" width="135" height="27" rx="5"/><text x="1911.5" y="3198.5" class="m">一、加强领导，精心组织</text></g>
<g id="n4-e1a"><rect x="2000" y="3124" width="236" height="140" rx="5"/><text x="2006" y="3139.5"><tspan>我县国土资源局成立了“6·25”全国土地日宣</tspan><tspan x="2006" dy="14.6">传活动小组，由局党组成员、总工程师×任组</tspan><tspan x="2006" dy="14.6">长，局办公室、监察室、用地股、地籍股、执</tspan><tspan x="2006" dy="14.6">法监察大队、耕保股、矿管股、地环股、财务</tspan><tspan x="2006" dy="14.6">股、交易所、事务所、各乡镇国土资源所等股</tspan><tspan x="2006" dy="14.6">室队所负责人任成员。宣传活动小组于宣传周</tspan><tspan x="2006" dy="14.6">前专门召开宣传活动专题会议，明确了本次宣</tspan><tspan x="2006" dy="14.6">传活动主题及方式，部署了具体的宣传活动，</tspan><tspan x="2006" dy="14.6">确保了人员到位，组织到位，经费到位。</tspan></text></g>
<g id="n4-e2"><rect x="1844" y="3657" width="135" height="25" rx="5"/><text x="1911.5" y="3673.5" class="m">二、搭建平台，开展宣传</text></g>
<g id="n4-e2a"><rect x="2000" y="3290" width="236" height="83" rx="5"/><text x="2006" y="3306.2"><tspan>为扩大影响，创新宣传方法，提升宣传效果，</tspan><tspan x="2006" dy="14.6">我县国土资源局积极搭建宣传平台，利用电视</tspan><tspan x="2006" dy="14.6">媒体、手机短信、知识讲座、娱乐竞赛、腰鼓</tspan><tspan x="2006" dy="14.6">巡街等多种形式，开展了一场全方位、多种类</tspan><tspan x="2006" dy="14.6">的全国土地日宣传活动</tspan></text></g>
<g id="n4-e2b"><rect x="2000" y="3395" width="236" height="186" rx="5"/><text x="2006" y="3411.6"><tspan>(一)举办了一场广场舞比赛。我局利用“周周</tspan><tspan x="2006" dy="14.6">乐”群众文化平台，于6月22日晚上在县城瑶</tspan><tspan x="2006" dy="14.6">族图腾园承办了一场“国土资源杯”全县第三</tspan><tspan x="2006" dy="14.6">届广场舞比赛，共12支广场舞队伍参演，全</tspan><tspan x="2006" dy="14.6">县上千名群众观看了比赛。比赛间隙，我们还</tspan><tspan x="2006" dy="14.6">向在场的观众宣传了国土资源法律法规知识，</tspan><tspan x="2006" dy="14.6">呼吁老百姓集约节约土地，合理保护和利用国</tspan><tspan x="2006" dy="14.6">土资源。县电视台全程录制播放了此次比赛。</tspan><tspan x="2006" dy="14.6">通过“周周乐”这种大家喜闻乐见的群众文化</tspan><tspan x="2006" dy="14.6">平台，扩大了国土资源部门的影响，树立了国</tspan><tspan x="2006" dy="14.6">土资源部门的良好形象，营造了严格保护国土</tspan><tspan x="2006" dy="14.6">资源和合理利用国土资源的'良好氛围。</tspan></text></g>
<g id="n4-e2c"><rect x="2000" y="3605" width="236" height="112" rx="5"/><text x="2006" y="3621.1"><tspan>(二)发布了三条电视宣传口号。在全国土地日</tspan><tspan x="2006" dy="14.6">宣传周期间，我们利用电视媒体广告的形式，</tspan><tspan x="2006" dy="14.6">在县电视台发布了“节约集约利用土地、转变</tspan><tspan x="2006" dy="14.6">土地利用方式”、“保护耕地 就是保护我们</tspan><tspan x="2006" dy="14.6">的生命线”等3条宣传口号，最大限度的将国</tspan><tspan x="2006" dy="14.6">土资源基本国策宣传到了全县广大电视受众。</tspan><tspan x="2006" dy="14.6">惜土护耕的意识深入人心。</tspan></text></g>
<g id="n4-e2d"><rect x="2000" y="3741" width="236" height="69" rx="5"/><text x="2006" y="3757.5"><tspan>(三)组织了1支腰鼓队巡回宣传。6月25日，</tspan><tspan x="2006" dy="14.6">我县国土资源局制作了印有今年全国土地日宣</tspan><tspan x="2006" dy="14.6">传主题的展板，并邀请了县腰鼓队，在县城各</tspan><tspan x="2006" dy="14.6">主要街道开展巡回宣传。</tspan></text></g>
<g id="n4-e2e"><rect x="2000" y="3835" width="236" height="112" rx="5"/><text x="2006" y="3851.1"><tspan>(四)组织了一场土地日知识培训。6月24日，</tspan><tspan x="2006" dy="14.6">我县国土资源局组织召开了全体干部职工大会</tspan><tspan x="2006" dy="14.6">，并借此机会，组织了相关的业务知识培训，</tspan><tspan x="2006" dy="14.6">局领导及相关的股室队所负责人上台主讲。通</tspan><tspan x="2006" dy="14.6">过业务培训，进一步加强了全局干部职工的国</tspan><tspan x="2006" dy="14.6">土资源管理业务技能，夯实了国土资源管理基</tspan><tspan x="2006" dy="14.6">础，提升了大家的软实力。</tspan></text></g>
<g id="n4-e2f"><rect x="2000" y="3972" width="236" height="68" rx="5"/><text x="2006" y="3988"><tspan>(五)群发了10000条宣传短信。宣传周期间，</tspan><tspan x="2006" dy="14.6">我们联系移动和联通公司，将第24个土地日</tspan><tspan x="2006" dy="14.6">的宣传口号编成手机短信，群发了10000条，</tspan><tspan x="2006" dy="14.6">进行宣传。</tspan></text></g>
</g>

<g class="lb">
<g id="n5-a"><rect x="570" y="3582" width="235" height="112" rx="5"/><text x="576" y="3598.1"><tspan>土地是人类赖以生存和经济社会发展的物质基</tspan><tspan x="576" dy="14.6">础，是我们的衣食所依、生存之本。今天是第</tspan><tspan x="576" dy="14.6">20个全国土地日，在这里，我代表镇党委、</tspan><tspan x="576" dy="14.6">政府向辛勤工作在国土资源管理工作岗位上的</tspan><tspan x="576" dy="14.6">各位同志表示诚挚的问候，向长期关心和支持</tspan><tspan x="576" dy="14.6">我镇国土资源管理事业的社会各界人士表示衷</tspan><tspan x="576" dy="14.6">心的感谢!</tspan></text></g>
<g id="n5-b"><rect x="570" y="3718" width="235" height="98" rx="5"/><text x="576" y="3734.4"><tspan>今年土地日的宣传主题是："土地与发展方式</tspan><tspan x="576" dy="14.6">转变--依法管地、集约用地"。这一主题要求</tspan><tspan x="576" dy="14.6">我们以积极推动发展方式转变为主线，完善土</tspan><tspan x="576" dy="14.6">地调控政策和机制，促进土地利用方式转变，</tspan><tspan x="576" dy="14.6">大力推进节约集约用地，坚守耕地保护红线，</tspan><tspan x="576" dy="14.6">保障经济平稳较快发展。</tspan></text></g>
<g id="n5-c"><rect x="570" y="3839" width="235" height="172" rx="5"/><text x="576" y="3855.9"><tspan>一要完善土地调控政策，促进发展方式转变。</tspan><tspan x="576" dy="14.6">土地政策参与宏观调控，既要加强总量控制，</tspan><tspan x="576" dy="14.6">又要按照"区别对待、分类指导、有保有压"的</tspan><tspan x="576" dy="14.6">原则，在用途管制、产业准入、区域政策等方</tspan><tspan x="576" dy="14.6">面加强结构性调控。科学编制好新一轮土地利</tspan><tspan x="576" dy="14.6">用总体规划，全力支持新农村建设，推进城镇</tspan><tspan x="576" dy="14.6">化进程，实现人口、经济、资源环境以及城乡</tspan><tspan x="576" dy="14.6">、区域协调发展。严把土地供应闸门，优先保</tspan><tspan x="576" dy="14.6">障重大民生项目，高科技、高效能、现代服务</tspan><tspan x="576" dy="14.6">业等符合城市发展战略的项目，严格限制高耗</tspan><tspan x="576" dy="14.6">能、高污染项目，推动经济结构的调整。</tspan></text></g>
<g id="n5-d"><rect x="570" y="4033" width="235" height="201" rx="5"/><text x="576" y="4049.8"><tspan>二要严格依法用地，全力守护耕地红线。坚持</tspan><tspan x="576" dy="14.6">依法用地，是保护红线、维护规范、爱护干部</tspan><tspan x="576" dy="14.6">的需要，我们要始终绷紧依法用地这根弦。各</tspan><tspan x="576" dy="14.6">级干部和广大群众要树立依法管地、批地、用</tspan><tspan x="576" dy="14.6">地的思想，不断增强国策意识，主动规范用地</tspan><tspan x="576" dy="14.6">，"卫片"执法已成常态，要加大执法监管和查</tspan><tspan x="576" dy="14.6">处力度，对重点地区以限期整改、责任追究、</tspan><tspan x="576" dy="14.6">问责处理等措施严格监管，确保"零约谈、零</tspan><tspan x="576" dy="14.6">问责"目标。加强动态巡查，构筑"第一防线"</tspan><tspan x="576" dy="14.6">，坚决遏制新的.违法违规用地行为。严格落</tspan><tspan x="576" dy="14.6">实耕地保护责任目标，加大土地整理、复垦力</tspan><tspan x="576" dy="14.6">度，确保基本农田总量不减少，用途不改变，</tspan><tspan x="576" dy="14.6">质量有提高。</tspan></text></g>
<g id="n5-e"><rect x="570" y="4256" width="235" height="186" rx="5"/><text x="576" y="4272.6"><tspan>三要创新节约集约用地机制，破解土地利用和</tspan><tspan x="576" dy="14.6">保护难题。创建国土资源节约集约模范乡(镇)</tspan><tspan x="576" dy="14.6">，真正做到"惜土如金"，深度挖潜，盘活存量</tspan><tspan x="576" dy="14.6">，进一步加大对闲置土地的处置力度，完善激</tspan><tspan x="576" dy="14.6">励约束机制，鼓励企业开发、利用闲置土地，</tspan><tspan x="576" dy="14.6">在拓展空间上求创新;要按照"布局集中、用地</tspan><tspan x="576" dy="14.6">集约、产业集聚"的要求，从项目的科技含量</tspan><tspan x="576" dy="14.6">、单位土地面积的投资强度、产值和税收等方</tspan><tspan x="576" dy="14.6">面引导和控制用地规模，提高土地使用效率。</tspan><tspan x="576" dy="14.6">依托城乡建设用地增减挂钩政策，整合城乡土</tspan><tspan x="576" dy="14.6">地资源，使耕地资源得到更好地保护，用地保</tspan><tspan x="576" dy="14.6">障空间得到更大地拓展。</tspan></text></g>
<g id="n5-f"><rect x="570" y="4467" width="235" height="110" rx="5"/><text x="576" y="4482.1"><tspan>依法管地、集约用地需要全社会的共同努力和</tspan><tspan x="576" dy="14.6">积极参与。让我们全面贯彻科学发展观，坚持</tspan><tspan x="576" dy="14.6">解放思想、改革创新，进一步增强依法管地、</tspan><tspan x="576" dy="14.6">依法用地的意识，提高节约集约用地水平，共</tspan><tspan x="576" dy="14.6">同保护好、利用好宝贵的土地资源，共同促进</tspan><tspan x="576" dy="14.6">我镇发展"双突破、双超越"，让我们为真武美</tspan><tspan x="576" dy="14.6">好的明天共同努力。</tspan></text></g>
<g id="n5-g"><rect x="570" y="4602" width="235" height="54" rx="5"/><text x="576" y="4618.3"><tspan>以上就是查字典范文网小编为大家收集的全国</tspan><tspan x="576" dy="14.6">土地日宣传活动总结，想要了解更多相关内容</tspan><tspan x="576" dy="14.6">，请关注查字典范文网。</tspan></text></g>
</g>
</g>
</svg>
